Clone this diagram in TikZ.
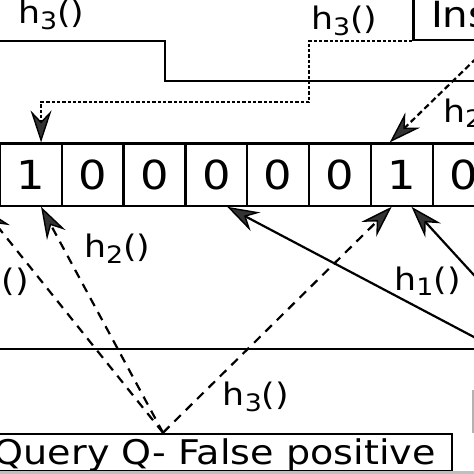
\documentclass[tikz,border=0pt]{standalone}
\usepackage{fontspec}
\setmainfont[FakeStretch=1.12]{DejaVu Sans}
\usetikzlibrary{arrows.meta,calc}
\newcommand\hsub[1]{\raisebox{-5.7pt}{\fontsize{24}{24}\selectfont #1}}
\begin{document}
\begin{tikzpicture}[x=1pt,y=-1pt, line width=2.2pt,
  cell/.style={draw, minimum width=61.85pt, minimum height=62.2pt, inner sep=0pt, font=\fontsize{40}{40}\selectfont},
  lbl/.style={anchor=base west, inner sep=0pt, font=\fontsize{31}{31}\selectfont},
  tip/.style={-{Stealth[length=32pt,width=21pt,inset=11pt,fill=black!80,line width=1.4pt]}},
  dsh/.style={dash pattern=on 9pt off 7pt},
  dshb/.style={dash pattern=on 6pt off 3.5pt},
  dotl/.style={dash pattern=on 3.3pt off 2pt}]
\useasboundingbox (0,0) rectangle (474,474);
\clip (0,0) rectangle (474,474);

% cells
\foreach \i/\v in {0/1,1/0,2/0,3/0,4/0,5/0,6/1,7/0}
  \node[cell] (c\i) at ({30.8+61.85*\i},174.6) {\v};

% boxes
\node[draw, anchor=north east, inner ysep=0pt, inner xsep=16.6pt, text height=30.6pt, text depth=6.7pt,
  font=\fontsize{34}{34}\selectfont] (query) at (453.3,432.7) {Query Q- False positive};
\node[draw, anchor=south west, inner ysep=0pt, inner xsep=17.7pt, text height=45pt, text depth=12.7pt,
  font=\fontsize{36}{36}\selectfont] (ins) at (412.3,41) {Ins};

% anchor points on cells
\coordinate (t0n) at ($(c0.north west)!0.66!(c0.north east)$);
\coordinate (t6n) at ($(c6.north west)!0.31!(c6.north east)$);
\coordinate (bm1) at ($(c0.south west)+(-17,0)$);
\coordinate (b0) at ($(c0.south west)!0.66!(c0.south east)$);
\coordinate (b3) at ($(c3.south west)!0.67!(c3.south east)$);
\coordinate (b6) at ($(c6.south west)!0.34!(c6.south east)$);
\coordinate (b6r) at ($(c6.south west)!0.65!(c6.south east)$);
\coordinate (q) at ($(query.north east)+(-290.3,0)$);
\coordinate (h2src) at (490,45);
\coordinate (s1) at (490,345.5);
\coordinate (s2) at (490,292.6);

% top lines
\draw (-5,41) -- (164.7,41) -- (164.7,81.3) -- (480,81.3);
\draw[dotl,tip] (ins.south west) -- (309,41) -- (309,102.3) -| (t0n);
\draw[dshb,tip] (h2src) -- (t6n);

% lower lines
\draw (-5,349.3) -- (480,349.3);
\draw[dsh,tip] (q) -- (bm1);
\draw[dsh,tip] (q) -- (b0);
\draw[dsh,tip] (q) -- (b6);
\draw[tip] (s1) -- (b3);
\draw[tip] (s2) -- (b6r);

% labels
\node[lbl] (l1) at (17,23.3) {h\hsub{3}()};
\node[lbl] (l2) at (310,29.5) {h\hsub{3}()};
\node[lbl] (l3) at (442,122) {h\hsub{2}()};
\node[lbl, anchor=base east] (l0) at (30,291) {h\hsub{1}()};
\node[lbl] (l4) at (83,257.3) {h\hsub{2}()};
\node[lbl] (l5) at (221.7,405.7) {h\hsub{3}()};
\node[lbl] (l6) at (393.3,290) {h\hsub{1}()};

% edge artefacts
\draw[gray!60] (473,390) -- (473,433);
\fill[gray!50] (0,471) rectangle (474,474);
\end{tikzpicture}
\end{document}
